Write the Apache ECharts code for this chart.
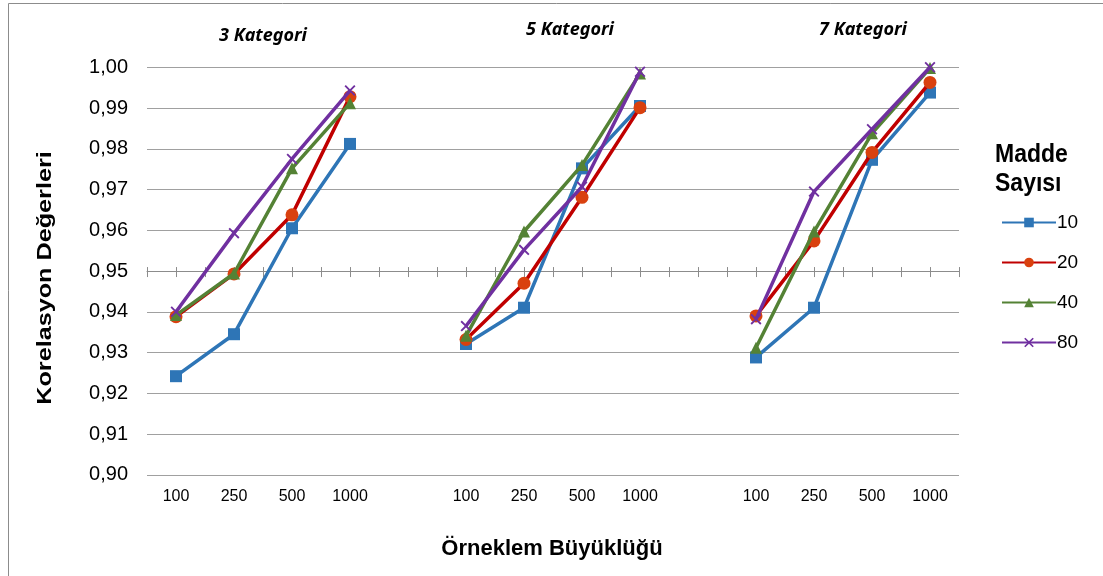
<!DOCTYPE html>
<html>
<head>
<meta charset="utf-8">
<script src="https://cdn.jsdelivr.net/npm/echarts@6/dist/echarts.min.js"></script>
<style>
  html, body { margin: 0; padding: 0; background: #fff; }
  #chart { width: 1103px; height: 576px; }
</style>
</head>
<body>
<div id="chart"></div>
<script>
// örneklem büyüklükleri, üç kategori grubu arasında boş bir sütun var
const sampleSizes = ['100', '250', '500', '1000', '', '100', '250', '500', '1000', '', '100', '250', '500', '1000'];
const groupTitles = ['3 Kategori', '5 Kategori', '7 Kategori'];
const itemCounts = ['10', '20', '40', '80'];

const madde10 = [0.9242, 0.9345, 0.9605, 0.9812, null, 0.9321, 0.9410, 0.9752, 0.9905, null, 0.9288, 0.9410, 0.9773, 0.9938];
const madde20 = [0.9388, 0.9493, 0.9638, 0.9928, null, 0.9332, 0.9470, 0.9681, 0.9901, null, 0.9390, 0.9574, 0.9791, 0.9963];
const madde40 = [0.9392, 0.9494, 0.9752, 0.9912, null, 0.9341, 0.9597, 0.9760, 0.9985, null, 0.9312, 0.9597, 0.9838, 0.9998];
const madde80 = [0.9400, 0.9593, 0.9775, 0.9943, null, 0.9365, 0.9552, 0.9707, 0.9989, null, 0.9382, 0.9695, 0.9848, 1.0000];

const chart = echarts.init(document.getElementById('chart'));

const crossPath = 'path://M0,1.2L1.2,0L5,3.8L8.8,0L10,1.2L6.2,5L10,8.8L8.8,10L5,6.2L1.2,10L0,8.8L3.8,5Z';
const styles = [
  { data: madde10, line: '#2E75B6', mark: '#2E75B6', symbol: 'rect', size: 12 },
  { data: madde20, line: '#C00000', mark: '#D9410F', symbol: 'circle', size: 13 },
  { data: madde40, line: '#548235', mark: '#548235', symbol: 'triangle', size: 12 },
  { data: madde80, line: '#7030A0', mark: '#7030A0', symbol: crossPath, size: 11 }
];

const halfTicks = sampleSizes.concat(sampleSizes).map(() => '');
const font = '"Liberation Sans", Arial, sans-serif';

const series = styles.map((s, i) => ({
  name: itemCounts[i],
  type: 'line',
  xAxisIndex: 0,
  yAxisIndex: 0,
  data: s.data,
  connectNulls: false,
  symbol: s.symbol,
  symbolSize: s.size,
  showAllSymbol: true,
  lineStyle: { color: s.line, width: 3.5 },
  itemStyle: { color: s.mark, borderWidth: 0 },
  emphasis: { disabled: true },
  z: 3 + i
}));

const titleX = [263, 570, 863];
const titleY = [36, 30, 30];

chart.setOption({
  animation: false,
  backgroundColor: '#fff',
  grid: [
    { left: 147, right: 144, top: 67.3, height: 407.5 },
    { left: 147, right: 144, top: 67.3, height: 203.75 }
  ],
  xAxis: [
    {
      type: 'category', gridIndex: 0, data: sampleSizes,
      axisLine: { show: false }, axisTick: { show: false },
      axisLabel: { color: '#000', fontSize: 16, fontFamily: font, margin: 14, interval: 0 }
    },
    {
      type: 'category', gridIndex: 1, data: halfTicks,
      axisLine: { show: true, lineStyle: { color: '#8c8c8c', width: 1 } },
      axisTick: { show: true, interval: 0, length: 6, lineStyle: { color: '#8c8c8c' } },
      axisLabel: { show: false }
    },
    {
      type: 'category', gridIndex: 1, data: halfTicks, position: 'bottom',
      axisLine: { show: false },
      axisTick: { show: true, interval: 0, inside: true, length: 4, lineStyle: { color: '#8c8c8c' } },
      axisLabel: { show: false }
    }
  ],
  yAxis: [
    {
      type: 'value', gridIndex: 0, min: 0.90, max: 1.00, interval: 0.01,
      axisLine: { show: false }, axisTick: { show: false },
      splitLine: { lineStyle: { color: '#a0a0a0', width: 1 } },
      axisLabel: {
        color: '#000', fontSize: 20, fontFamily: font, margin: 19,
        formatter: v => v.toFixed(2).replace('.', ',')
      }
    },
    {
      type: 'value', gridIndex: 1, min: 0.95, max: 1.00, show: false
    }
  ],
  legend: {
    orient: 'vertical',
    left: 996,
    top: 208,
    itemWidth: 54,
    itemHeight: 12,
    itemGap: 21,
    data: itemCounts,
    textStyle: { color: '#000', fontSize: 19, fontFamily: font, padding: [0, 0, 0, -4] },
    selectedMode: false
  },
  graphic: [
    {
      type: 'rect',
      shape: { x: 8.5, y: 3.5, width: 1200, height: 700 },
      style: { fill: 'none', stroke: '#8c8c8c', lineWidth: 1 },
      silent: true
    },
    {
      type: 'text', x: 995, y: 155, scaleY: 1.15,
      style: { text: 'Madde', fill: '#000', font: 'bold 23px ' + font, verticalAlign: 'middle' }
    },
    {
      type: 'text', x: 995, y: 184, scaleY: 1.15,
      style: { text: 'Sayısı', fill: '#000', font: 'bold 23px ' + font, verticalAlign: 'middle' }
    },
    {
      type: 'text', x: 45, y: 278, rotation: Math.PI / 2, scaleX: 1.2,
      style: { text: 'Korelasyon Değerleri', fill: '#000', font: 'bold 21px ' + font, align: 'center', verticalAlign: 'middle' }
    },
    {
      type: 'text', x: 552, y: 549,
      style: { text: 'Örneklem Büyüklüğü', fill: '#000', font: 'bold 22px ' + font, align: 'center', verticalAlign: 'middle' }
    }
  ].concat(groupTitles.map((t, i) => ({
    type: 'text', x: titleX[i], y: titleY[i],
    style: { text: t, fill: '#000', font: 'italic bold 18px "Noto Sans", sans-serif', align: 'center', verticalAlign: 'middle' }
  }))),
  series: series
});
</script>
</body>
</html>
